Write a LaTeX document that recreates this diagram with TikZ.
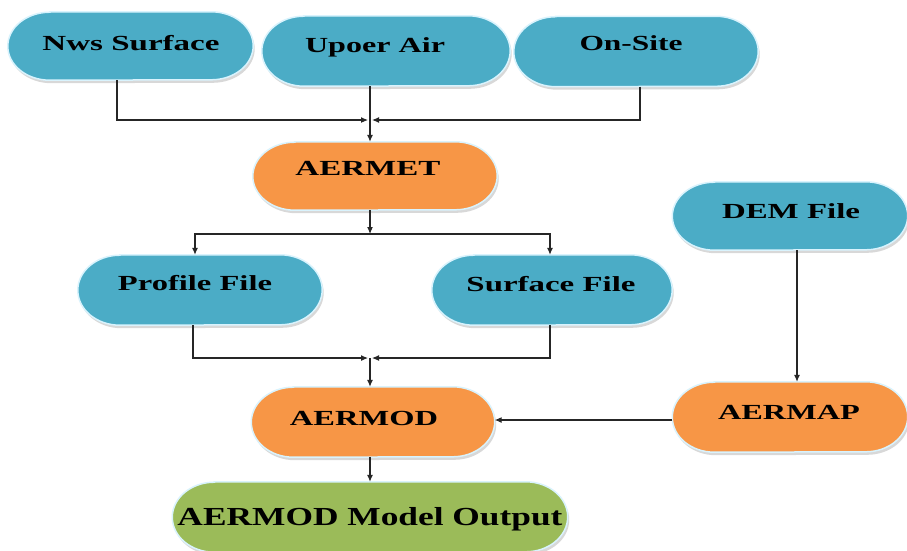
\documentclass[tikz,border=0pt]{standalone}
\usepackage{fontspec}
\setmainfont{Liberation Serif}
\usetikzlibrary{arrows.meta,shadows}
\definecolor{cblue}{HTML}{4BACC6}
\definecolor{corange}{HTML}{F79646}
\definecolor{cgreen}{HTML}{9BBB59}
% elliptical-capped box drawn around an (invisible) node
\newcommand{\stadium}[3]{%
  \path[fill=#2, draw=white!85!cyan, line width=1.5pt,
        drop shadow={shadow xshift=1.5pt, shadow yshift=-3pt, fill=black!30}]
    ([xshift=42pt]#1.north west) -- ([xshift=-42pt]#1.north east)
    arc[start angle=90, end angle=-90, x radius=42pt, y radius=#3pt]
    -- ([xshift=42pt]#1.south west)
    arc[start angle=270, end angle=90, x radius=42pt, y radius=#3pt] -- cycle;}
\begin{document}
\begin{tikzpicture}[x=1pt,y=-1pt,
  box/.style={rectangle, minimum height=68pt, inner sep=0pt},
  lbl/.style={inner sep=0pt, anchor=base, font=\fontsize{21.5}{26}\selectfont\bfseries, text=black},
  arr/.style={-{Latex[length=7pt,width=6pt]}, line width=1.1pt, draw=black!85}]
\useasboundingbox (0,0) rectangle (907,550);
\fill[white] (0,0) rectangle (907,550);

% box nodes (outlines drawn by \stadium)
\node[box, minimum width=245pt] (nws) at (130.5,46) {};
\node[box, minimum width=248pt, minimum height=70pt] (upa) at (386,51) {};
\node[box, minimum width=244pt, minimum height=70pt] (ons) at (636,51.5) {};
\node[box, minimum width=244pt] (aermet) at (375,176) {};
\node[box, minimum width=235pt] (dem) at (790,216) {};
\node[box, minimum width=244pt, minimum height=70pt] (prof) at (200,290) {};
\node[box, minimum width=240pt, minimum height=70pt] (surf) at (552,290) {};
\node[box, minimum width=243pt, minimum height=70pt] (aermod) at (373,422) {};
\node[box, minimum width=235pt, minimum height=70pt] (aermap) at (790,417) {};
\node[box, minimum width=395pt, minimum height=70pt] (out) at (370,517) {};

\stadium{nws}{cblue}{34}
\stadium{upa}{cblue}{35}
\stadium{ons}{cblue}{35}
\stadium{aermet}{corange}{34}
\stadium{dem}{cblue}{34}
\stadium{prof}{cblue}{35}
\stadium{surf}{cblue}{35}
\stadium{aermod}{corange}{35}
\stadium{aermap}{corange}{35}
\stadium{out}{cgreen}{35}

% labels
\node[lbl] (nwsT) at (131,50) {\resizebox{177pt}{\height}{Nws Surface}};
\node[lbl] (upaT) at (375,52) {\resizebox{140pt}{\height}{Upoer Air}};
\node[lbl] (onsT) at (631,50) {\resizebox{103pt}{\height}{On-Site}};
\node[lbl] (aermetT) at (368,175) {\resizebox{145pt}{\height}{AERMET}};
\node[lbl] (demT) at (791,218) {\resizebox{138pt}{\height}{DEM File}};
\node[lbl] (profT) at (195,290) {\resizebox{154pt}{\height}{Profile File}};
\node[lbl] (surfT) at (551,291) {\resizebox{169pt}{\height}{Surface File}};
\node[lbl] (aermodT) at (364,425) {\resizebox{148pt}{\height}{AERMOD}};
\node[lbl] (aermapT) at (789,419) {\resizebox{142pt}{\height}{AERMAP}};
\node[lbl, font=\fontsize{26}{31}\selectfont\bfseries] (outT) at (370,525) {\resizebox{385pt}{\height}{AERMOD Model Output}};

% junctions
\coordinate (j1) at (370,120);
\coordinate (j2) at (370,234);
\coordinate (j3) at (370,358);

% connectors
\draw[arr] ([xshift=-13.5pt]nws.south) |- ([xshift=-2pt]j1);
\draw[arr] ([xshift=4pt]ons.south) |- ([xshift=2pt]j1);
\draw[arr] (upa.south -| j1) -- (aermet.north -| j1);
\draw[arr] (aermet.south -| j2) -- (j2);
\draw[arr] (j2) -| ([xshift=-5pt]prof.north);
\draw[arr] (j2) -| ([xshift=-2pt]surf.north);
\draw[arr] ([xshift=-7pt]prof.south) |- ([xshift=-2pt]j3);
\draw[arr] ([xshift=-2pt]surf.south) |- ([xshift=2pt]j3);
\draw[arr] (j3) -- (aermod.north -| j3);
\draw[arr] ([xshift=7pt]dem.south) -- ([xshift=7pt]aermap.north);
\draw[arr] ([yshift=-3pt]aermap.west) -- ([yshift=-3pt]aermod.east |- aermap.west);
\draw[arr] (aermod.south -| j3) -- (out.north -| j3);
\end{tikzpicture}
\end{document}
